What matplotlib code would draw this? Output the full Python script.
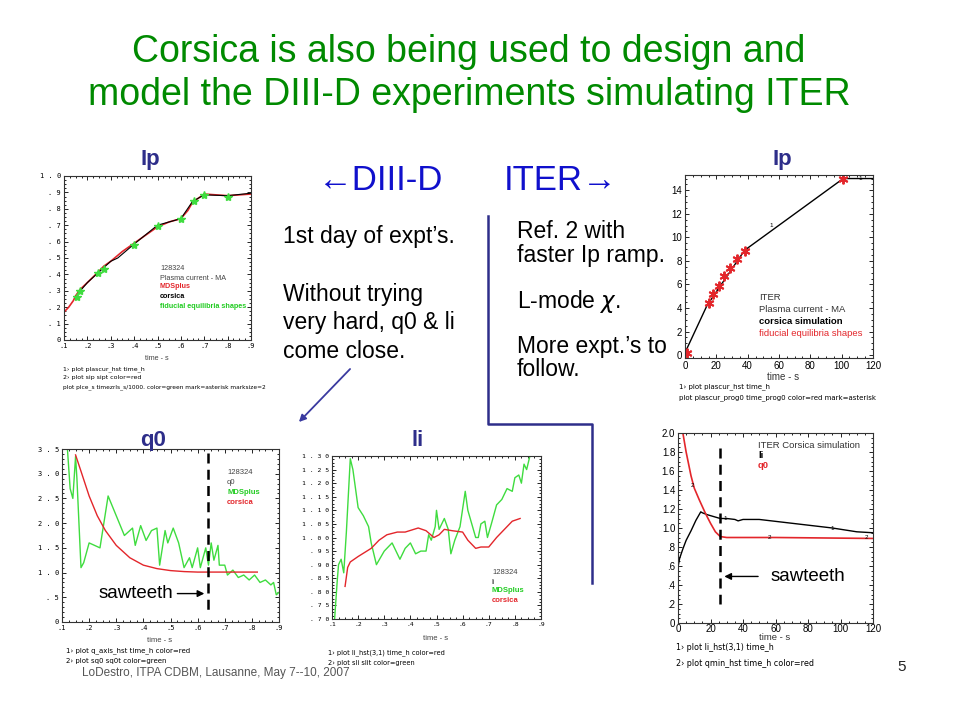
import matplotlib
matplotlib.use('Agg')
import matplotlib.pyplot as plt
from matplotlib import font_manager
from matplotlib.ticker import MultipleLocator, FixedLocator

# --- DATA ---
# DIII-D plasma current, shot 128324
ip_mds_t = [0.10, 0.12, 0.14, 0.15, 0.16, 0.17, 0.20, 0.25, 0.27, 0.30, 0.35, 0.40, 0.45, 0.50, 0.55, 0.60, 0.63, 0.65, 0.68, 0.70, 0.75, 0.80, 0.85, 0.90]
ip_mds = [0.17, 0.20, 0.24, 0.27, 0.29, 0.31, 0.35, 0.42, 0.45, 0.48, 0.54, 0.59, 0.64, 0.69, 0.72, 0.74, 0.79, 0.84, 0.87, 0.89, 0.885, 0.88, 0.885, 0.89]
ip_cor_t = [0.17, 0.20, 0.30, 0.33, 0.40, 0.50, 0.60, 0.65, 0.70, 0.80, 0.90]
ip_cor = [0.30, 0.35, 0.48, 0.50, 0.585, 0.70, 0.74, 0.845, 0.885, 0.88, 0.895]
ip_fid_t = [0.155, 0.17, 0.245, 0.27, 0.40, 0.50, 0.60, 0.655, 0.70, 0.80]
ip_fid = [0.26, 0.30, 0.41, 0.43, 0.58, 0.695, 0.74, 0.85, 0.885, 0.875]

# ITER plasma current
iter_ip_t = [0, 14, 38, 101, 120]
iter_ip = [0.2, 4.2, 8.9, 15.0, 15.0]
iter_fid_t = [1, 15, 18, 21.5, 25, 28.5, 33.5, 38, 101]
iter_fid = [0.2, 4.4, 5.2, 5.9, 6.7, 7.4, 8.2, 8.8, 15.0]

# DIII-D q0
q0_mds_t = [0.11, 0.12, 0.13, 0.14, 0.15, 0.155, 0.17, 0.18, 0.20, 0.24, 0.27, 0.33, 0.36, 0.37, 0.39, 0.41, 0.43, 0.45, 0.46, 0.48, 0.49, 0.51, 0.53, 0.55, 0.57, 0.58, 0.60, 0.61, 0.63, 0.64, 0.65, 0.66, 0.675, 0.68, 0.70, 0.71, 0.73, 0.75, 0.77, 0.79, 0.81, 0.83, 0.85, 0.87, 0.88, 0.89, 0.90]
q0_mds = [3.7, 3.5, 2.7, 2.5, 3.35, 2.9, 1.1, 1.2, 1.6, 1.5, 2.55, 1.75, 1.9, 1.55, 1.95, 1.65, 1.85, 1.9, 1.15, 1.85, 1.6, 1.9, 1.6, 1.1, 1.3, 1.1, 1.5, 1.1, 1.5, 1.15, 1.6, 1.25, 1.55, 1.15, 1.15, 0.95, 1.05, 0.9, 0.95, 0.85, 0.95, 0.8, 0.85, 0.75, 0.8, 0.55, 0.6]
q0_cor_t = [0.15, 0.17, 0.20, 0.23, 0.26, 0.30, 0.35, 0.40, 0.45, 0.50, 0.55, 0.60, 0.70, 0.82]
q0_cor = [3.38, 3.05, 2.55, 2.15, 1.85, 1.55, 1.30, 1.15, 1.08, 1.04, 1.02, 1.01, 1.01, 1.01]

# DIII-D li
li_mds_t = [0.11, 0.12, 0.125, 0.135, 0.145, 0.155, 0.165, 0.17, 0.18, 0.19, 0.20, 0.22, 0.24, 0.25, 0.27, 0.30, 0.33, 0.36, 0.38, 0.40, 0.42, 0.44, 0.46, 0.47, 0.48, 0.495, 0.50, 0.51, 0.53, 0.545, 0.555, 0.57, 0.59, 0.61, 0.62, 0.635, 0.65, 0.66, 0.67, 0.685, 0.695, 0.71, 0.73, 0.75, 0.77, 0.79, 0.80, 0.815, 0.825, 0.835, 0.845, 0.855, 0.86]
li_mds = [0.70, 0.84, 0.90, 0.92, 0.87, 1.02, 1.20, 1.29, 1.25, 1.18, 1.11, 1.08, 1.04, 0.98, 0.90, 0.95, 0.98, 0.92, 0.96, 0.98, 0.94, 0.95, 0.95, 1.01, 0.99, 1.04, 1.10, 1.03, 1.07, 1.03, 0.94, 0.99, 1.04, 1.17, 1.10, 1.05, 1.00, 1.00, 1.05, 1.06, 1.00, 1.05, 1.12, 1.14, 1.18, 1.17, 1.22, 1.23, 1.20, 1.27, 1.25, 1.29, 1.31]
li_cor_t = [0.15, 0.16, 0.17, 0.20, 0.25, 0.28, 0.31, 0.35, 0.38, 0.43, 0.46, 0.49, 0.51, 0.53, 0.56, 0.60, 0.62, 0.65, 0.67, 0.70, 0.73, 0.76, 0.79, 0.82]
li_cor = [0.82, 0.89, 0.91, 0.93, 0.96, 0.99, 1.01, 1.02, 1.02, 1.035, 1.025, 1.00, 1.01, 1.03, 1.025, 1.02, 0.99, 0.96, 0.965, 0.965, 1.00, 1.03, 1.06, 1.07]

# ITER li and q0 (Corsica simulation)
iter_li_t = [0, 1, 3, 5, 8, 11, 14, 15, 18, 22, 26, 30, 35, 37, 40, 50, 60, 70, 80, 95, 110, 120]
iter_li = [0.59, 0.68, 0.78, 0.87, 0.97, 1.08, 1.17, 1.16, 1.14, 1.12, 1.10, 1.10, 1.09, 1.075, 1.09, 1.09, 1.07, 1.05, 1.03, 1.00, 0.96, 0.95]
iter_q0_t = [3, 5, 8, 10, 13, 17, 20, 23, 26, 30, 60, 120]
iter_q0 = [2.0, 1.8, 1.55, 1.42, 1.30, 1.15, 1.05, 0.96, 0.91, 0.90, 0.90, 0.89]

# tick labels
d3_x_ticks = [0.1, 0.2, 0.3, 0.4, 0.5, 0.6, 0.7, 0.8, 0.9]
d3_x_labels = ['.1', '.2', '.3', '.4', '.5', '.6', '.7', '.8', '.9']
ip_y_ticks = [0, 0.1, 0.2, 0.3, 0.4, 0.5, 0.6, 0.7, 0.8, 0.9, 1.0]
ip_y_labels = ['0', '. 1', '. 2', '. 3', '. 4', '. 5', '. 6', '. 7', '. 8', '. 9', '1 . 0']
q0_y_ticks = [0, 0.5, 1.0, 1.5, 2.0, 2.5, 3.0, 3.5]
q0_y_labels = ['0', '. 5', '1 . 0', '1 . 5', '2 . 0', '2 . 5', '3 . 0', '3 . 5']
li_y_ticks = [0.70, 0.75, 0.80, 0.85, 0.90, 0.95, 1.00, 1.05, 1.10, 1.15, 1.20, 1.25, 1.30]
li_y_labels = ['. 7 0', '. 7 5', '. 8 0', '. 8 5', '. 9 0', '. 9 5', '1 . 0 0', '1 . 0 5', '1 . 1 0', '1 . 1 5', '1 . 2 0', '1 . 2 5', '1 . 3 0']
it_y_ticks = [0, 0.2, 0.4, 0.6, 0.8, 1.0, 1.2, 1.4, 1.6, 1.8, 2.0]
it_y_labels = ['0', '.2', '.4', '.6', '.8', '1.0', '1.2', '1.4', '1.6', '1.8', '2.0']

# --- SETUP ---
W, H = 960, 720
plt.rcParams['font.family'] = ['Liberation Sans', 'DejaVu Sans']
fig = plt.figure(figsize=(9.6, 7.2), dpi=100)
fig.patch.set_facecolor('white')

RED = '#e3262b'
GREEN = '#3fdc3f'
NAVY = '#2e2e8a'
MONO = ['DejaVu Sans Mono']

# condensed font for the plot-command captions, sizes given in DejaVu Sans terms
installed = {f.name for f in font_manager.fontManager.ttflist}
NARROW, nscale = ['DejaVu Sans'], 1.0
for cand, sc in [('Liberation Sans Narrow', 1 / 0.74), ('DejaVu Sans Condensed', 1 / 0.9)]:
    if cand in installed:
        NARROW, nscale = [cand, 'DejaVu Sans'], sc
        break


def px_text(x, y, s, **kw):
    kw.setdefault('va', 'center')
    fig.text(x / W, 1 - y / H, s, **kw)


def cmd_text(x, y, s, size):
    px_text(x, y, s, fontsize=size * nscale, family=NARROW)


def add_ax(l, t, r, b):
    return fig.add_axes([l / W, 1 - b / H, (r - l) / W, (b - t) / H])


def style(ax, size, font):
    ax.tick_params(which='both', direction='in', top=True, right=True, width=0.6, pad=2)
    ax.tick_params(which='major', length=3, labelsize=size)
    ax.tick_params(which='minor', length=1.5)
    for lab in ax.get_xticklabels() + ax.get_yticklabels():
        lab.set_family(font)
    for sp in ax.spines.values():
        sp.set_linewidth(0.8)
        sp.set_color('#333333')


# --- TITLE AND SLIDE TEXT ---
px_text(469, 52, 'Corsica is also being used to design and', ha='center', fontsize=27, color='#008a00')
px_text(469, 95, 'model the DIII-D experiments simulating ITER', ha='center', fontsize=27, color='#008a00')

px_text(381, 180, '\u2190DIII-D', ha='center', fontsize=25, color='#1010cc')
px_text(561, 180, 'ITER\u2192', ha='center', fontsize=25, color='#1010cc')

px_text(150, 160, 'Ip', ha='center', fontsize=16, fontweight='bold', color=NAVY)
px_text(782, 160, 'Ip', ha='center', fontsize=16, fontweight='bold', color=NAVY)
px_text(153, 440, 'q0', ha='center', fontsize=16, fontweight='bold', color=NAVY)
px_text(418, 440, 'li', ha='center', fontsize=16, fontweight='bold', color=NAVY)

for y, s in [(237, '1st day of expt\u2019s.'), (295, 'Without trying'), (323, 'very hard, q0 & li'), (351, 'come close.')]:
    px_text(283, y, s, fontsize=16.5)
for y, s in [(231, 'Ref. 2 with'), (255, 'faster Ip ramp.'), (301, 'L-mode $\\chi$.'), (346, 'More expt.\u2019s to'), (370, 'follow.')]:
    px_text(517, y, s, fontsize=16.5)

# navy bracket line and arrow (figure-level decoration)
fig.add_artist(plt.Line2D([488 / W, 488 / W, 592 / W, 592 / W],
                          [1 - 216 / H, 1 - 424 / H, 1 - 424 / H, 1 - 583 / H],
                          color=NAVY, lw=1.8))
fig.add_artist(matplotlib.patches.FancyArrowPatch((352 / W, 1 - 367 / H), (297 / W, 1 - 424 / H),
                                                  transform=fig.transFigure, arrowstyle='-|>',
                                                  mutation_scale=10, color='#3a3aa0', lw=1.3))

px_text(82, 673, 'LoDestro, ITPA CDBM, Lausanne, May 7--10, 2007', fontsize=8.5, color='#555555')
px_text(897, 667, '5', fontsize=11, color='#222222')

# --- PANEL 1: DIII-D Ip ---
ax1 = add_ax(64, 176, 251, 340)
ax1.plot(ip_mds_t, ip_mds, color=RED, lw=1.2)
ax1.plot(ip_cor_t, ip_cor, color='black', lw=0.8)
ax1.plot(ip_fid_t, ip_fid, ls='none', marker='*', ms=6, color=GREEN)
ax1.set_xlim(0.1, 0.9)
ax1.set_ylim(0, 1.0)
ax1.xaxis.set_major_locator(FixedLocator(d3_x_ticks))
ax1.set_xticklabels(d3_x_labels)
ax1.yaxis.set_major_locator(FixedLocator(ip_y_ticks))
ax1.set_yticklabels(ip_y_labels)
ax1.xaxis.set_minor_locator(MultipleLocator(0.025))
ax1.yaxis.set_minor_locator(MultipleLocator(0.025))
style(ax1, 5, MONO)
px_text(160, 268, '128324', fontsize=5.2, color='#444444')
px_text(160, 278, 'Plasma current - MA', fontsize=5.2, color='#444444')
px_text(160, 287, 'MDSplus', fontsize=5.2, color=RED, fontweight='bold')
px_text(160, 297, 'corsica', fontsize=5.2, color='black', fontweight='bold')
px_text(160, 306, 'fiducial equilibria shapes', fontsize=5.2, color='#22cc22', fontweight='bold')
px_text(157, 358, 'time - s', ha='center', fontsize=5.2, color='#444444')
cmd_text(63, 369, '1\u203a plot plascur_hst time_h', 4.5)
cmd_text(63, 378, '2\u203a plot sip sipt color=red', 4.5)
cmd_text(63, 387, 'plot plce_s timezrls_s/1000. color=green mark=asterisk marksize=2', 4.2)

# --- PANEL 2: ITER Ip ---
ax2 = add_ax(685, 175, 873, 358)
ax2.plot(iter_ip_t, iter_ip, color='black', lw=1.0)
ax2.plot(iter_fid_t, iter_fid, ls='none', marker=(6, 2, 0), ms=7, mew=1.4, color=RED)
ax2.set_xlim(0, 120)
ax2.set_ylim(-0.25, 15.3)
ax2.xaxis.set_major_locator(MultipleLocator(20))
ax2.xaxis.set_minor_locator(MultipleLocator(5))
ax2.yaxis.set_major_locator(MultipleLocator(2))
ax2.yaxis.set_minor_locator(MultipleLocator(0.5))
style(ax2, 7, ['Liberation Sans'])
ax2.text(55, 11.0, '1', fontsize=4.5, ha='center', va='center')
ax2.text(112, 15.0, '1', fontsize=4.5, ha='center', va='center')
px_text(759, 297, 'ITER', fontsize=6.8, color='#333333')
px_text(759, 309, 'Plasma current - MA', fontsize=6.8, color='#333333')
px_text(759, 321, 'corsica simulation', fontsize=6.8, color='black', fontweight='bold')
px_text(759, 333, 'fiducial equilibria shapes', fontsize=6.8, color=RED)
px_text(783, 377, 'time - s', ha='center', fontsize=7, color='#333333')
cmd_text(679, 387, '1\u203a plot plascur_hst time_h', 5.0)
cmd_text(679, 398, 'plot plascur_prog0 time_prog0 color=red mark=asterisk', 5.0)

# --- PANEL 3: DIII-D q0 ---
ax3 = add_ax(62, 449, 279, 622)
ax3.plot(q0_mds_t, q0_mds, color=GREEN, lw=1.0)
ax3.plot(q0_cor_t, q0_cor, color=RED, lw=1.0)
ax3.plot([0.64, 0.64], [3.42, 0.24], color='black', lw=1.8, ls=(0, (4, 2.5)))
ax3.annotate('', xy=(0.635, 0.575), xytext=(0.515, 0.575),
             arrowprops=dict(arrowstyle='-|>', color='black', lw=1.0, mutation_scale=10))
ax3.text(0.512, 0.575, 'sawteeth', ha='right', va='center', fontsize=13.5)
ax3.set_xlim(0.1, 0.9)
ax3.set_ylim(0, 3.5)
ax3.xaxis.set_major_locator(FixedLocator(d3_x_ticks))
ax3.set_xticklabels(d3_x_labels)
ax3.yaxis.set_major_locator(FixedLocator(q0_y_ticks))
ax3.set_yticklabels(q0_y_labels)
ax3.xaxis.set_minor_locator(MultipleLocator(0.025))
ax3.yaxis.set_minor_locator(MultipleLocator(0.1))
style(ax3, 5, MONO)
px_text(227, 473, '128324', fontsize=5.5, color='#444444')
px_text(227, 482, 'q0', fontsize=5.5, color='#444444')
px_text(227, 492, 'MDSplus', fontsize=5.5, color='#22cc22', fontweight='bold')
px_text(227, 502, 'corsica', fontsize=5.5, color=RED, fontweight='bold')
px_text(160, 640, 'time - s', ha='center', fontsize=5.5, color='#444444')
cmd_text(66, 651, '1\u203a plot q_axis_hst time_h color=red', 5.0)
cmd_text(66, 661, '2\u203a plot sq0 sq0t color=green', 5.0)

# --- PANEL 4: DIII-D li ---
ax4 = add_ax(332, 456, 541, 619)
ax4.plot(li_mds_t, li_mds, color=GREEN, lw=1.0)
ax4.plot(li_cor_t, li_cor, color=RED, lw=1.0)
ax4.set_xlim(0.1, 0.9)
ax4.set_ylim(0.70, 1.30)
ax4.xaxis.set_major_locator(FixedLocator(d3_x_ticks))
ax4.set_xticklabels(d3_x_labels)
ax4.yaxis.set_major_locator(FixedLocator(li_y_ticks))
ax4.set_yticklabels(li_y_labels)
ax4.xaxis.set_minor_locator(MultipleLocator(0.025))
ax4.yaxis.set_minor_locator(MultipleLocator(0.0125))
style(ax4, 4.6, MONO)
px_text(492, 573, '128324', fontsize=5.5, color='#444444')
px_text(492, 582, 'li', fontsize=5.5, color='#444444')
px_text(492, 591, 'MDSplus', fontsize=5.5, color='#22cc22', fontweight='bold')
px_text(492, 601, 'corsica', fontsize=5.5, color=RED, fontweight='bold')
px_text(436, 639, 'time - s', ha='center', fontsize=5.5, color='#444444')
cmd_text(328, 653, '1\u203a plot li_hst(3,1) time_h color=red', 4.8)
cmd_text(328, 663, '2\u203a plot sli slit color=green', 4.8)

# --- PANEL 5: ITER li and q0 ---
ax5 = add_ax(678, 433, 873, 623)
ax5.plot(iter_li_t, iter_li, color='black', lw=1.0)
ax5.plot(iter_q0_t, iter_q0, color=RED, lw=1.2)
ax5.plot([25.6, 25.6], [1.84, 0.2], color='black', lw=1.8, ls=(0, (4, 2.5)))
ax5.annotate('', xy=(26.8, 0.49), xytext=(51, 0.49),
             arrowprops=dict(arrowstyle='-|>', color='black', lw=1.0, mutation_scale=10))
ax5.text(57, 0.49, 'sawteeth', ha='left', va='center', fontsize=13.5)
for t, v, s in [(29, 1.1, '1'), (95, 1.0, '1'), (9, 1.45, '2'), (56, 0.9, '2'), (116, 0.9, '2')]:
    ax5.text(t, v, s, fontsize=4.5, ha='center', va='center')
ax5.set_xlim(0, 120)
ax5.set_ylim(0, 2.0)
ax5.xaxis.set_major_locator(MultipleLocator(20))
ax5.xaxis.set_minor_locator(MultipleLocator(5))
ax5.yaxis.set_major_locator(FixedLocator(it_y_ticks))
ax5.set_yticklabels(it_y_labels)
ax5.yaxis.set_minor_locator(MultipleLocator(0.05))
style(ax5, 7, ['Liberation Sans'])
ax5.tick_params(axis='x', pad=1)
px_text(758, 445, 'ITER Corsica simulation', fontsize=6.8, color='#333333')
px_text(758, 456, 'li', fontsize=6.8, color='black', fontweight='bold')
px_text(758, 466, 'q0', fontsize=6.8, color=RED, fontweight='bold')
px_text(775, 637, 'time - s', ha='center', fontsize=6.8, color='#333333')
cmd_text(676, 648, '1\u203a plot li_hst(3,1) time_h', 5.8)
cmd_text(676, 664, '2\u203a plot qmin_hst time_h color=red', 5.8)

fig.savefig('out.png', dpi=100)
